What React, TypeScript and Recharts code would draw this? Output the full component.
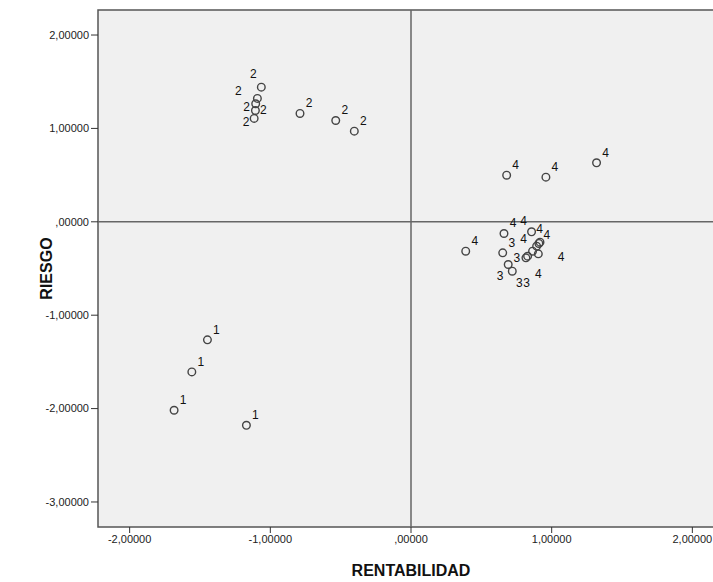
import React from 'react';
import {
  ScatterChart,
  Scatter,
  XAxis,
  YAxis,
  ReferenceArea,
  ReferenceLine,
  Label,
} from 'recharts';

// rentabilidad (x) / riesgo (y) por grupo
const group1X = [-1.447, -1.558, -1.684, -1.17];
const group1Y = [-1.264, -1.607, -2.018, -2.179];

const group2X = [-1.064, -1.092, -1.104, -1.106, -1.115, -0.789, -0.535, -0.403];
const group2Y = [1.442, 1.321, 1.264, 1.192, 1.107, 1.16, 1.085, 0.971];

const group3X = [0.652, 0.691, 0.72, 0.817, 0.829];
const group3Y = [-0.332, -0.457, -0.529, -0.386, -0.368];

const group4X = [0.68, 0.959, 1.319, 0.389, 0.661, 0.857, 0.864, 0.893, 0.909, 0.917, 0.905];
const group4Y = [0.499, 0.478, 0.632, -0.315, -0.125, -0.107, -0.315, -0.261, -0.232, -0.218, -0.343];

const xTicks = [-2, -1, 0, 1, 2];
const yTicks = [-3, -2, -1, 0, 1, 2];

const X_DOMAIN: [number, number] = [-2.225, 2.225];
const Y_DOMAIN: [number, number] = [-3.268, 2.268];

// label placement (pixel offset of the label centre from the point), like SPSS
// moves them apart in crowded spots; anything not listed goes up-right
const DEFAULT_OFFSET: [number, number] = [9, -10];
const labelOffsets: Record<number, ([number, number] | null)[]> = {
  2: [[-8, -13], [-19, -7], [-9, 3], [8, 0], [-8, 4]],
  3: [null, [-8, 12], [7, 12], [-9, 0], [-1, 27]],
  4: [null, null, null, null, null, [-8, -11], [-9, -12], [3, -17], [8, -8], [21, 15], [0, 20]],
};

const toRows = (xs: number[], ys: number[], group: number) =>
  xs.map((x, i) => ({ x, y: ys[i], group, idx: i }));

const groups = [
  toRows(group1X, group1Y, 1),
  toRows(group2X, group2Y, 2),
  toRows(group3X, group3Y, 3),
  toRows(group4X, group4Y, 4),
];

// SPSS style number: 2 -> "2,00000", 0 -> ",00000"
const fmt = (v: number) => {
  const s = Math.abs(v).toFixed(5).replace('.', ',');
  const body = s.startsWith('0,') ? s.slice(1) : s;
  return (v < 0 ? '-' : '') + body;
};

const FONT = 'Liberation Sans, Arial, sans-serif';

const PointWithLabel = (props: any) => {
  const { cx, cy, payload } = props;
  if (cx == null || cy == null) return null;
  const off = (labelOffsets[payload.group] || [])[payload.idx] || DEFAULT_OFFSET;
  return (
    <g>
      <circle cx={cx} cy={cy} r={3.8} fill="none" stroke="#444" strokeWidth={1.4} />
      <text
        x={cx + off[0]}
        y={cy + off[1] + 4}
        textAnchor="middle"
        fontSize={12}
        fill="#111"
        fontFamily={FONT}
      >
        {payload.group}
      </text>
    </g>
  );
};

const tickStyle = { fontSize: 11, fill: '#222', fontFamily: FONT };

export default function App() {
  return (
    <div style={{ position: 'absolute', left: 0, top: 0, width: 713, height: 582, overflow: 'hidden', background: '#fff' }}>
      <ScatterChart width={730} height={582} margin={{ top: 10, right: 6, bottom: 0, left: 0 }}>
        <ReferenceArea
          x1={X_DOMAIN[0]}
          x2={X_DOMAIN[1]}
          y1={Y_DOMAIN[0]}
          y2={Y_DOMAIN[1]}
          fill="#f0f0f0"
          fillOpacity={1}
          stroke="#555"
          strokeWidth={1.5}
        />
        <ReferenceLine x={0} stroke="#666" strokeWidth={1.5} />
        <ReferenceLine y={0} stroke="#666" strokeWidth={1.5} />
        <XAxis
          type="number"
          dataKey="x"
          domain={X_DOMAIN}
          ticks={xTicks}
          allowDataOverflow
          axisLine={false}
          tickLine={{ stroke: '#333' }}
          tickSize={6}
          tickFormatter={fmt}
          tick={tickStyle}
          height={55}
        >
          <Label
            value="RENTABILIDAD"
            position="insideBottom"
            offset={6}
            style={{ fontSize: 16, fontWeight: 'bold', fill: '#111', fontFamily: FONT }}
          />
        </XAxis>
        <YAxis
          type="number"
          dataKey="y"
          domain={Y_DOMAIN}
          ticks={yTicks}
          allowDataOverflow
          axisLine={false}
          tickLine={{ stroke: '#333' }}
          tickSize={7}
          tickFormatter={fmt}
          tick={tickStyle}
          width={98}
        >
          <Label
            value="RIESGO"
            angle={-90}
            position="insideLeft"
            offset={46}
            style={{ textAnchor: 'middle', fontSize: 16, fontWeight: 'bold', fill: '#111', fontFamily: FONT }}
          />
        </YAxis>
        {groups.map((rows, i) => (
          <Scatter key={i} data={rows} shape={PointWithLabel} isAnimationActive={false} />
        ))}
      </ScatterChart>
    </div>
  );
}
